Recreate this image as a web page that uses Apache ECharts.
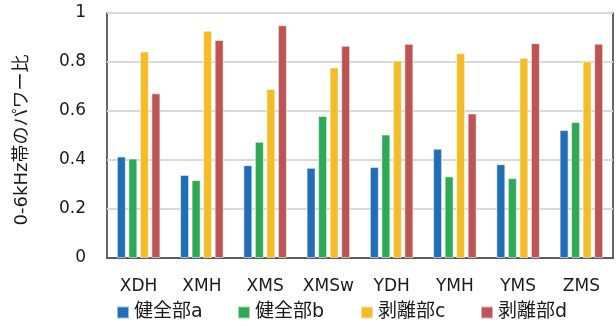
<!DOCTYPE html>
<html>
<head>
<meta charset="utf-8">
<script src="https://cdn.jsdelivr.net/npm/echarts@6/dist/echarts.min.js"></script>
<style>
  html, body { margin: 0; padding: 0; background: #fff; }
  #chart { width: 616px; height: 327px; }
</style>
</head>
<body>
<div id="chart"></div>
<script>
// Sample groups along the x axis
const categories = ['XDH', 'XMH', 'XMS', 'XMSw', 'YDH', 'YMH', 'YMS', 'ZMS'];

// Power ratio in the 0-6 kHz band for each region
const seriesNames = ['健全部a', '健全部b', '剥離部c', '剥離部d'];
const valuesA = [0.414, 0.339, 0.379, 0.368, 0.371, 0.446, 0.383, 0.522];
const valuesB = [0.406, 0.318, 0.474, 0.580, 0.504, 0.333, 0.326, 0.555];
const valuesC = [0.843, 0.928, 0.690, 0.778, 0.806, 0.836, 0.817, 0.802];
const valuesD = [0.672, 0.890, 0.950, 0.866, 0.874, 0.590, 0.877, 0.875];

const colors = ['#1F6EB7', '#2EAA57', '#F5BC2A', '#BC5553'];
const font = '"DejaVu Sans", "Noto Sans CJK JP", sans-serif';

const allValues = [valuesA, valuesB, valuesC, valuesD];

// One legend entry per component so the entries sit on an even pitch
const legendLefts = [116, 237, 360, 480];

const chart = echarts.init(document.getElementById('chart'), null, { renderer: 'canvas' });

chart.setOption({
  animation: false,
  color: colors,
  grid: {
    left: 107, top: 13, right: 3, bottom: 69,
    show: true,
    borderColor: '#333',
    borderWidth: 1.5,
    containLabel: false
  },
  legend: seriesNames.map((name, i) => ({
    left: legendLefts[i],
    top: 303,
    padding: 0,
    itemWidth: 12,
    itemHeight: 12,
    icon: 'rect',
    textStyle: { fontFamily: font, fontSize: 19, color: '#1a1a1a' },
    data: [name]
  })),
  xAxis: {
    type: 'category',
    data: categories,
    axisTick: { show: false },
    axisLine: { show: true, lineStyle: { color: '#333', width: 1.5 } },
    axisLabel: { interval: 0, fontFamily: font, fontSize: 17, color: '#1a1a1a', margin: 20 }
  },
  yAxis: {
    type: 'value',
    min: 0, max: 1, interval: 0.2,
    name: '0-6kHz帯のパワー比',
    nameLocation: 'middle',
    nameGap: 76,
    nameTextStyle: { fontFamily: font, fontSize: 18, color: '#1a1a1a', padding: [0, 9, 0, 0] },
    axisLine: { show: false },
    axisTick: { show: false },
    axisLabel: { fontFamily: font, fontSize: 17, color: '#1a1a1a', margin: 21 },
    splitLine: { lineStyle: { color: '#D9D9D9', width: 2 } }
  },
  series: seriesNames.map((name, i) => ({
    name: name,
    type: 'bar',
    data: allValues[i],
    barWidth: 9,
    barGap: '28%',
    itemStyle: {
      color: colors[i],
      borderColor: 'rgba(255,255,255,0.55)',
      borderWidth: 1
    }
  }))
});
</script>
</body>
</html>
